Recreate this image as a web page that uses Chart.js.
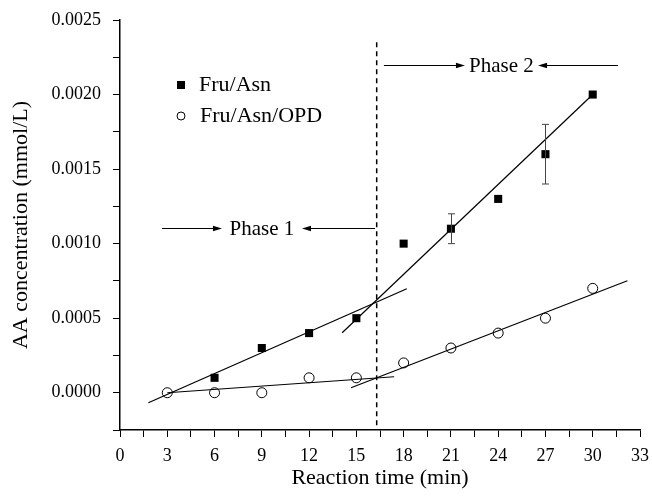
<!DOCTYPE html>
<html>
<head>
<meta charset="utf-8">
<script src="https://cdn.jsdelivr.net/npm/chart.js@4.4.0/dist/chart.umd.min.js"></script>
<style>
html, body { margin: 0; padding: 0; background: #fff; }
</style>
</head>
<body>
<canvas id="grafAA" width="652" height="497"></canvas>
<script>
// datos: tiempo de reaccion (min) y concentracion de AA (mmol/L)
var tiempos = [3, 6, 9, 12, 15, 18, 21, 24, 27, 30];
var fruAsn = [null, 0.0001, 0.0003, 0.0004, 0.0005, 0.0010, 0.0011, 0.0013, 0.0016, 0.0020];
var fruAsnOpd = [0, 0, 0, 0.0001, 0.0001, 0.0002, 0.0003, 0.0004, 0.0005, 0.0007];
var errorFruAsn = [0, 0, 0, 0, 0, 0, 0.0001, 0, 0.0002, 0];

// rectas de ajuste [x1, y1, x2, y2]
var ajusteFruFase1 = [1.8, -0.000067, 18.2, 0.000697];
var ajusteFruFase2 = [14.1, 0.000402, 30, 0.0020];
var ajusteOpdFase1 = [3, 0, 17.4, 0.000107];
var ajusteOpdFase2 = [14.66, 0.0000335, 32.2, 0.000751];
var corteFases = 16.29;

// marcas de los ejes
var xTicks = [0, 1.5, 3, 4.5, 6, 7.5, 9, 10.5, 12, 13.5, 15, 16.5, 18, 19.5, 21, 22.5, 24, 25.5, 27, 28.5, 30, 31.5, 33];
var yTicks = [-0.00025, 0, 0.00025, 0.0005, 0.00075, 0.001, 0.00125, 0.0015, 0.00175, 0.002, 0.00225, 0.0025];

var fuente = 'Liberation Serif';

function esMayor(v, paso) {
    var q = v / paso;
    return Math.abs(q - Math.round(q)) < 1e-6;
}

function puntos(xs, ys) {
    var out = [];
    for (var i = 0; i < xs.length; i++) {
        if (ys[i] !== null) out.push({x: xs[i], y: ys[i]});
    }
    return out;
}

function recta(r) {
    return [{x: r[0], y: r[1]}, {x: r[2], y: r[3]}];
}

function datasetRecta(r) {
    return {
        data: recta(r), showLine: true, pointRadius: 0, pointHoverRadius: 0,
        borderColor: '#000', borderWidth: 1.2, fill: false
    };
}

// flechas de las fases
var fases = [
    {texto: 'Phase 1', y: 0.001106, inicio: 2.67, punta1: 6.47, punta2: 11.55, fin: 16.18},
    {texto: 'Phase 2', y: 0.002198, inicio: 16.75, punta1: 21.89, punta2: 26.53, fin: 31.6}
];

function flecha(ctx, x0, xPunta, y) {
    var dir = xPunta > x0 ? 1 : -1;
    ctx.beginPath();
    ctx.moveTo(x0, y);
    ctx.lineTo(xPunta - dir * 6, y);
    ctx.stroke();
    ctx.beginPath();
    ctx.moveTo(xPunta, y);
    ctx.lineTo(xPunta - dir * 9, y - 2.8);
    ctx.lineTo(xPunta - dir * 9, y + 2.8);
    ctx.closePath();
    ctx.fill();
}

var pluginExtras = {
    id: 'extras',
    afterDatasetsDraw: function(chart) {
        var ctx = chart.ctx;
        var sx = chart.scales.x, sy = chart.scales.y;
        ctx.save();

        // barras de error
        ctx.strokeStyle = '#444';
        ctx.lineWidth = 1;
        for (var i = 0; i < tiempos.length; i++) {
            if (!errorFruAsn[i]) continue;
            var px = Math.round(sx.getPixelForValue(tiempos[i])) + 0.5;
            var y1 = sy.getPixelForValue(fruAsn[i] - errorFruAsn[i]);
            var y2 = sy.getPixelForValue(fruAsn[i] + errorFruAsn[i]);
            ctx.beginPath();
            ctx.moveTo(px, y1); ctx.lineTo(px, y2);
            ctx.moveTo(px - 3.5, y1); ctx.lineTo(px + 3.5, y1);
            ctx.moveTo(px - 3.5, y2); ctx.lineTo(px + 3.5, y2);
            ctx.stroke();
        }

        // fases
        ctx.strokeStyle = '#000';
        ctx.fillStyle = '#000';
        ctx.lineWidth = 1;
        ctx.font = '21px "' + fuente + '"';
        ctx.textAlign = 'center';
        ctx.textBaseline = 'middle';
        fases.forEach(function(f) {
            var y = Math.round(sy.getPixelForValue(f.y)) + 0.5;
            var a = sx.getPixelForValue(f.inicio), b = sx.getPixelForValue(f.punta1);
            var c = sx.getPixelForValue(f.punta2), d = sx.getPixelForValue(f.fin);
            flecha(ctx, a, b, y);
            flecha(ctx, d, c, y);
            ctx.fillText(f.texto, (b + c) / 2, y + 1);
        });

        // leyenda
        ctx.font = '22px "' + fuente + '"';
        ctx.textAlign = 'left';
        ctx.fillRect(177, 81, 8, 8);
        ctx.fillText('Fru/Asn', 199, 85);
        ctx.beginPath();
        ctx.arc(181, 116, 4, 0, Math.PI * 2);
        ctx.stroke();
        ctx.fillText('Fru/Asn/OPD', 200, 116);
        ctx.restore();
    }
};

function dibujarGraficoAA() {
    var ctx = document.getElementById('grafAA');
    new Chart(ctx, {
        type: 'scatter',
        data: {
            datasets: [
                datasetRecta(ajusteFruFase1),
                datasetRecta(ajusteFruFase2),
                datasetRecta(ajusteOpdFase1),
                datasetRecta(ajusteOpdFase2),
                {
                    data: [{x: corteFases, y: 0.00235}, {x: corteFases, y: -0.00025}],
                    showLine: true, pointRadius: 0, borderColor: '#000',
                    borderWidth: 1.5, borderDash: [5, 4]
                },
                {
                    label: 'Fru/Asn',
                    data: puntos(tiempos, fruAsn),
                    pointStyle: 'rect', pointRadius: 5.7, pointHoverRadius: 5.7,
                    backgroundColor: '#000', borderColor: '#000', borderWidth: 0
                },
                {
                    label: 'Fru/Asn/OPD',
                    data: puntos(tiempos, fruAsnOpd),
                    pointStyle: 'circle', pointRadius: 5, pointHoverRadius: 5,
                    backgroundColor: 'rgba(0,0,0,0)', borderColor: '#000', borderWidth: 1
                }
            ]
        },
        options: {
            responsive: false,
            animation: false,
            devicePixelRatio: 1,
            layout: {padding: {top: 20, right: 12, left: 0, bottom: 0}},
            plugins: {legend: {display: false}, tooltip: {enabled: false}},
            scales: {
                x: {
                    type: 'linear', min: 0, max: 33,
                    afterBuildTicks: function(s) { s.ticks = xTicks.map(function(v) { return {value: v}; }); },
                    afterFit: function(s) { s.height = 67; s.paddingLeft = 0; s.paddingRight = 0; },
                    grid: {drawOnChartArea: false, drawTicks: true, tickLength: 7, color: '#000', tickWidth: 1},
                    border: {display: true, color: '#000', width: 1.5},
                    ticks: {
                        autoSkip: false, maxRotation: 0, padding: 8, color: '#000',
                        font: {family: fuente, size: 18},
                        callback: function(v) { return esMayor(v, 3) ? String(v) : ''; }
                    },
                    title: {display: true, text: 'Reaction time (min)', color: '#000',
                        font: {family: fuente, size: 22}, padding: {top: 0, bottom: 6}}
                },
                y: {
                    type: 'linear', min: -0.00025, max: 0.0025,
                    afterBuildTicks: function(s) { s.ticks = yTicks.map(function(v) { return {value: v}; }); },
                    afterFit: function(s) { s.width = 120; s.paddingTop = 0; s.paddingBottom = 0; },
                    grid: {drawOnChartArea: false, drawTicks: true, tickLength: 7, color: '#000', tickWidth: 1},
                    border: {display: true, color: '#000', width: 1.5},
                    ticks: {
                        autoSkip: false, padding: 12, color: '#000',
                        font: {family: fuente, size: 18},
                        callback: function(v) { return esMayor(v, 0.0005) ? v.toFixed(4) : ''; }
                    },
                    title: {display: true, text: 'AA concentration (mmol/L)', color: '#000',
                        font: {family: fuente, size: 22}, padding: {top: 8, bottom: 0}}
                }
            }
        },
        plugins: [pluginExtras]
    });
}

dibujarGraficoAA();
</script>
</body>
</html>
